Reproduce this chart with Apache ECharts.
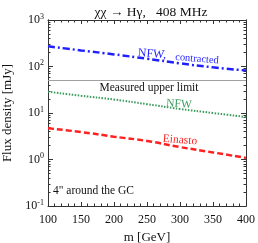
<!DOCTYPE html>
<html><head><meta charset="utf-8">
<script src="https://cdn.jsdelivr.net/npm/echarts@6/dist/echarts.min.js"></script>
<style>html,body{margin:0;padding:0;background:#fff}#c{width:258px;height:243px}</style>
</head><body><div id="c"></div>
<script>
var masses = [100, 150, 200, 250, 300, 350, 400];
var nfwContracted = [272, 222, 182, 147, 117, 96, 82];
var nfw = [28.7, 23.5, 19.5, 15.5, 12.2, 10, 8.2];
var einasto = [4.7, 3.9, 3.1, 2.5, 1.85, 1.42, 1.08];
var upperLimit = 50;
var xTicks = [100, 150, 200, 250, 300, 350, 400];
var yTicks = [0.1, 1, 10, 100, 1000];
var yMinor = [];
[0.1, 1, 10, 100].forEach(function (d) { for (var k = 2; k <= 9; k++) yMinor.push(+(d * k).toPrecision(3)); });

function pairs(ys) { return masses.map(function (m, i) { return [m, ys[i]]; }); }
var F = 'Liberation Serif';
var axCol = '#333';
var chart = echarts.init(document.getElementById('c'), null, {renderer: 'canvas'});
function yAx(pos, major, labels) {
  return {
    type: 'log', logBase: 10, min: 0.1, max: 1000, position: pos,
    name: labels ? 'Flux density [mJy]' : '', nameLocation: 'middle', nameGap: 33,
    nameTextStyle: {fontFamily: F, fontSize: 13, color: '#111'},
    axisLine: {show: true, lineStyle: {color: axCol, width: 1}},
    axisTick: major ? {show: true, inside: true, length: 5, lineStyle: {color: axCol}, customValues: yTicks}
                    : {show: true, inside: true, length: 2.5, lineStyle: {color: axCol}, customValues: yMinor},
    axisLabel: labels ? {show: true, customValues: yTicks, margin: 4, fontFamily: F, color: '#111',
      formatter: function (v) { var e = Math.round(Math.log10(v)); return '{b|10}{s|' + e + '}'; },
      rich: {b: {fontSize: 12, fontFamily: F, color: '#111', lineHeight: 15}, s: {fontSize: 8, fontFamily: F, color: '#111', verticalAlign: 'top', lineHeight: 8}}
    } : {show: false},
    splitLine: {show: false}
  };
}
function xAx(pos, labels) {
  return {
    type: 'value', min: 100, max: 400, interval: 50, position: pos,
    name: labels ? 'm [GeV]' : '', nameLocation: 'middle', nameGap: 23,
    nameTextStyle: {fontFamily: F, fontSize: 13, color: '#111'},
    axisLine: {show: true, onZero: false, lineStyle: {color: axCol, width: 1}},
    axisTick: {show: true, inside: true, length: 4, lineStyle: {color: axCol}},
    minorTick: {show: true, splitNumber: 5, length: 2.5, lineStyle: {color: axCol}},
    axisLabel: {show: labels, margin: 8, fontFamily: F, fontSize: 12, color: '#111'},
    splitLine: {show: false}, minorSplitLine: {show: false}
  };
}
chart.setOption({
  animation: false,
  backgroundColor: '#fff',
  title: {text: 'χχ → Hγ,   408 MHz', left: 146, top: 0, textAlign: 'center',
    textStyle: {fontFamily: F, fontSize: 13.5, fontWeight: 'normal', color: '#111'}},
  grid: {left: 48, right: 12, top: 20, bottom: 37, containLabel: false, outerBoundsMode: 'none'},
  xAxis: [xAx('bottom', true), xAx('top', false)],
  yAxis: [yAx('left', true, true), yAx('left', false, false), yAx('right', true, false), yAx('right', false, false)],
  series: [
    {type: 'line', data: pairs(nfwContracted), smooth: true, showSymbol: false,
      lineStyle: {color: '#1f1fff', width: 2.5, type: [7, 3, 2, 3]}},
    {type: 'line', data: pairs(nfw), smooth: true, showSymbol: false,
      lineStyle: {color: '#3a9a5c', width: 2, type: [1.5, 1.5]}},
    {type: 'line', data: pairs(einasto), smooth: true, showSymbol: false,
      lineStyle: {color: '#ff2020', width: 2.5, type: [6, 3]}},
    {type: 'line', data: [[100, upperLimit], [400, upperLimit]], showSymbol: false,
      lineStyle: {color: '#a0a0a0', width: 1}}
  ],
  graphic: [
    {type: 'text', x: 152, y: 54, rotation: -0.08, style: {text: 'NFW,', font: '12px "Liberation Serif"', fill: '#1f1fff', align: 'center', verticalAlign: 'middle'}},
    {type: 'text', x: 197, y: 59, rotation: -0.08, style: {text: 'contracted', font: '10.5px "Liberation Serif"', fill: '#1f1fff', align: 'center', verticalAlign: 'middle'}},
    {type: 'text', x: 149, y: 88, style: {text: 'Measured upper limit', font: '11.5px "Liberation Serif"', fill: '#111', align: 'center', verticalAlign: 'middle'}},
    {type: 'text', x: 179, y: 104, rotation: -0.06, style: {text: 'NFW', font: '11.5px "Liberation Serif"', fill: '#3a9a5c', align: 'center', verticalAlign: 'middle'}},
    {type: 'text', x: 180, y: 140, rotation: -0.08, style: {text: 'Einasto', font: '11.5px "Liberation Serif"', fill: '#ff2020', align: 'center', verticalAlign: 'middle'}},
    {type: 'text', x: 53, y: 191, style: {text: '4" around the GC', font: '11.5px "Liberation Serif"', fill: '#111', align: 'left', verticalAlign: 'middle'}}
  ]
});
</script></body></html>
